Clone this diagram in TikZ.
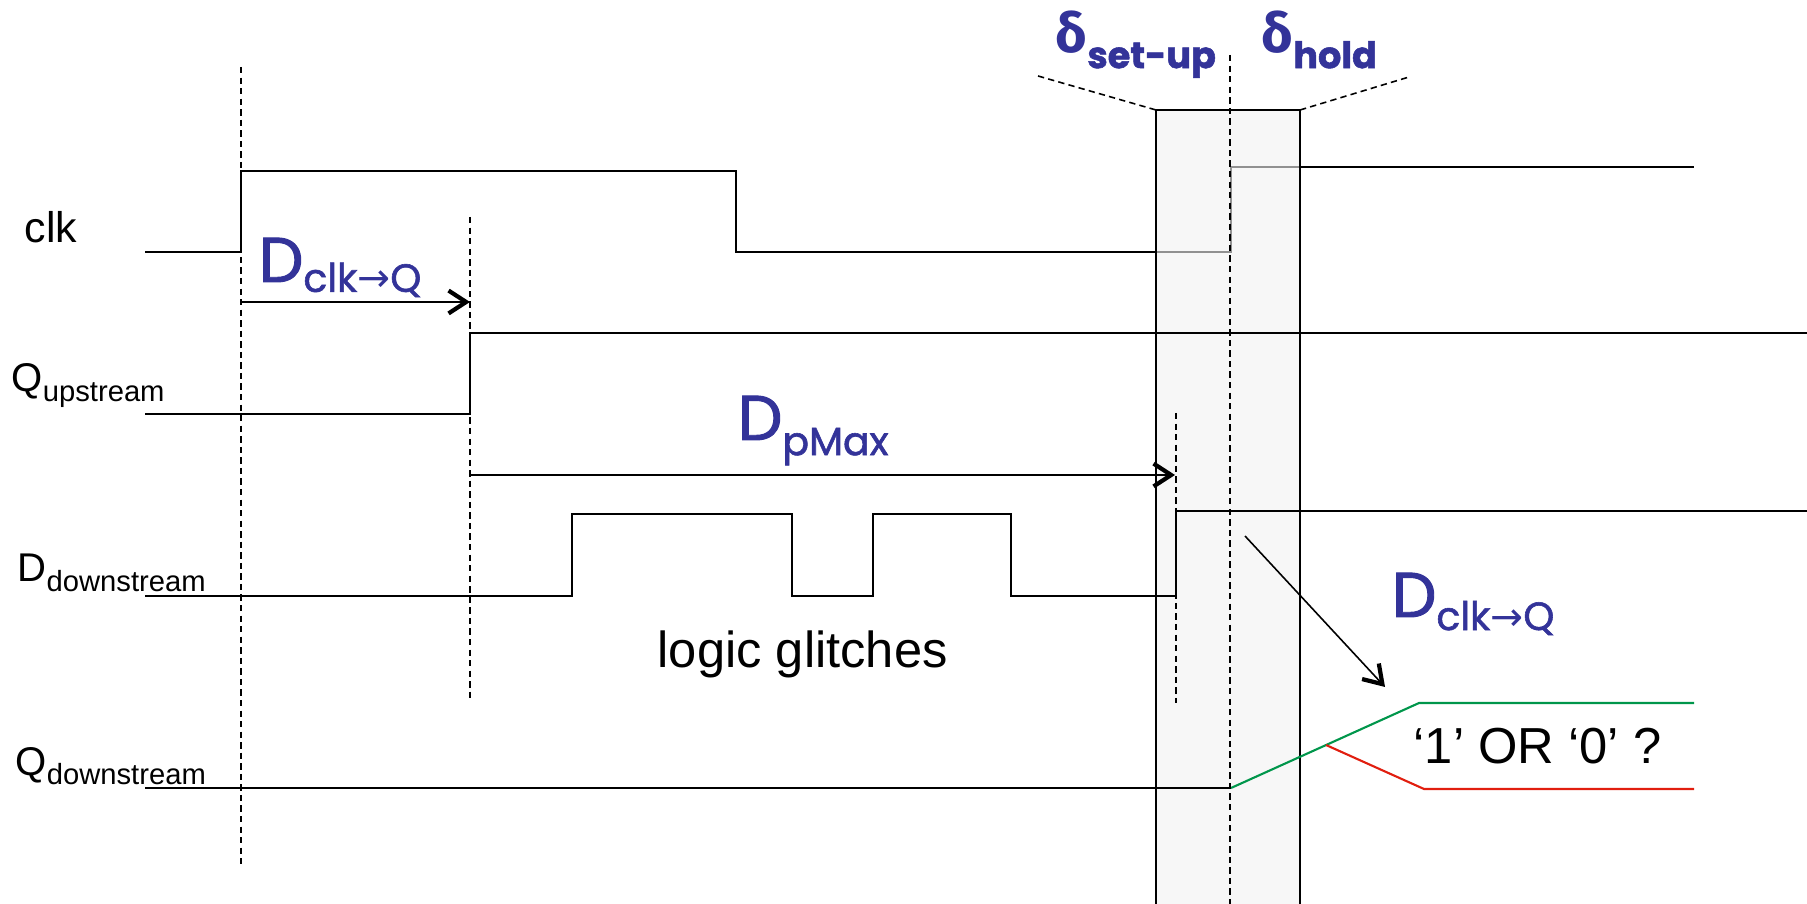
\documentclass[tikz,border=0pt]{standalone}
\usepackage{fontspec}
\setmainfont{Liberation Sans}
\newfontfamily\comic[FakeBold=1.5]{Poppins}
\newfontfamily\greekf{Fira Sans}
\newfontfamily\symf{DejaVu Sans}
\usetikzlibrary{arrows.meta}
\definecolor{tblue}{RGB}{51,51,153}
\definecolor{tgreen}{RGB}{0,150,75}
\definecolor{tred}{RGB}{225,30,15}
\definecolor{boxgray}{RGB}{242,242,242}
\tikzset{
  wave/.style={line width=0.6pt, line join=miter},
  guide/.style={line width=0.45pt, dash pattern=on 1.8pt off 1.2pt},
  timearrow/.style={line width=0.6pt, -{Straight Barb[length=5pt,width=6.5pt,line width=1.2pt]}},
  lbl/.style={inner sep=0pt, anchor=base west, font=\fontsize{11.4}{12}\selectfont},
  bluelbl/.style={inner sep=0pt, anchor=base west, text=tblue},
}
\newcommand{\subsm}[2]{\raisebox{-#1}{\fontsize{8.3}{9}\selectfont #2}}
\newcommand{\bsub}[2]{\raisebox{-#1}{\fontsize{11.2}{12}\selectfont #2}}
\newcommand{\dsub}[2]{\raisebox{-#1}{\fontsize{10.4}{12}\selectfont #2}}
\begin{document}
\begin{tikzpicture}[x=0.01cm,y=-0.01cm]
\useasboundingbox (0,0) rectangle (1807,904);

% clk waveform (under the window)
\draw[wave] (145,252) -- (241,252) -- (241,171) -- (736,171) -- (736,252) -- (1231,252) -- (1231,167) -- (1694,167);

% set-up / hold window
\fill[boxgray, fill opacity=0.6] (1156,110) rectangle (1300,904);
\draw[line width=0.6pt] (1156,904) -- (1156,110) -- (1300,110) -- (1300,904);
\draw[guide] (1038,76) -- (1156,110);
\draw[guide] (1300,110) -- (1409,77);

% other waveforms
\draw[wave] (145,414) -- (470,414) -- (470,333) -- (1807,333);
\draw[wave] (145,596) -- (572,596) -- (572,514) -- (792,514) -- (792,596) -- (873,596) -- (873,514) -- (1011,514) -- (1011,596) -- (1176,596) -- (1176,511) -- (1807,511);
\draw[wave] (145,788) -- (1231,788);
\draw[wave, tgreen] (1231,788) -- (1419,703) -- (1694,703);
\draw[wave, tred] (1326,745) -- (1424,789) -- (1694,789);

% dashed guides
\draw[guide] (241,67) -- (241,864);
\draw[guide] (470,217) -- (470,698);
\draw[guide] (1176,413) -- (1176,703);
\draw[guide] (1230,55) -- (1230,904);

% arrows
\coordinate (a1s) at (241,302); \coordinate (a1e) at (470,302);
\coordinate (a2s) at (470,475); \coordinate (a2e) at (1175,475);
\coordinate (a3s) at (1245,536); \coordinate (a3e) at (1385,687);
\draw[timearrow] (a1s) -- (a1e);
\draw[timearrow] (a2s) -- (a2e);
\draw[line width=0.45pt, -{Straight Barb[length=5pt,width=6.5pt,line width=1.2pt]}] (a3s) -- (a3e);

% signal labels
\node[lbl, font=\fontsize{12.2}{13}\selectfont] (clk) at (24,243) {clk};
\node[lbl] (qup) at (11,392) {Q\subsm{2.8pt}{upstream}};
\node[lbl] (ddown) at (17,582) {D\subsm{2.8pt}{downstream}};
\node[lbl] (qdown) at (15,775) {Q\subsm{2.8pt}{downstream}};

\node[inner sep=0pt, anchor=base west, font=\fontsize{14.4}{15}\selectfont] (glitch) at (657,667) {logic glitches};
\node[inner sep=0pt, anchor=base west, font=\fontsize{14.4}{15}\selectfont] (q10) at (1413,763) {‘1’ OR ‘0’ ?};

% blue timing labels
\node[bluelbl] (dclkq1) at (258,282) {\comic\fontsize{18}{18}\selectfont D\bsub{2.8pt}{clk{\symf →}Q}};
\node[bluelbl] (dpmax) at (737,440) {\comic\fontsize{18}{18}\selectfont D\bsub{4.3pt}{pMax}};
\node[bluelbl] (dclkq2) at (1391,617) {\comic\fontsize{18}{18}\selectfont D\bsub{3.7pt}{clk{\symf →}Q}};
\node[bluelbl] (dsetup) at (1055,53) {\greekf\bfseries\fontsize{15.6}{16}\selectfont δ\dsub{4.3pt}{\comic\bfseries set-up}};
\node[bluelbl] (dhold) at (1261,53) {\greekf\bfseries\fontsize{15.6}{16}\selectfont δ\dsub{4.3pt}{\comic\bfseries hold}};
\end{tikzpicture}
\end{document}
